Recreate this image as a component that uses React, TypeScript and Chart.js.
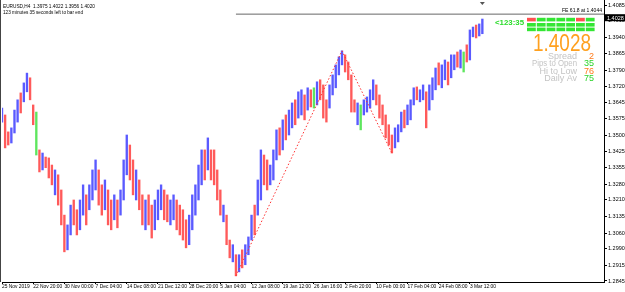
import React, { useEffect, useRef } from 'react';
import { Chart, registerables } from 'chart.js';

Chart.register(...registerables);

// ---------- data ----------
const symbolTitle = 'EURUSD,H4  1.3975 1.4022 1.3956 1.4020';
const timerText = '123 minutes 35 seconds left to bar end';

const timeLabels = [
  '25 Nov 2019', '22 Nov 20:00', '30 Nov 00:00', '7 Dec 04:00', '14 Dec 08:00',
  '21 Dec 12:00', '28 Dec 20:00', '5 Jan 04:00', '12 Jan 08:00', '19 Jan 12:00',
  '26 Jan 16:00', '2 Feb 20:00', '10 Feb 00:00', '17 Feb 04:00', '24 Feb 08:00', '3 Mar 12:00',
];
const barsPerLabel = 10;
const totalSlots = 194;

const highs = [
  1.3622, 1.3591, 1.3515, 1.3533, 1.3613, 1.3659, 1.3690, 1.3735, 1.3779, 1.3758,
  1.3636, 1.3604, 1.3434, 1.3420, 1.3402, 1.3398, 1.3366, 1.3344, 1.3322, 1.3254,
  1.3141, 1.3097, 1.3186, 1.3209, 1.3165, 1.3209, 1.3277, 1.3232, 1.3277, 1.3344,
  1.3389, 1.3344, 1.3277, 1.3299, 1.3254, 1.3209, 1.3232, 1.3209, 1.3254, 1.3389,
  1.3501, 1.3456, 1.3389, 1.3344, 1.3299, 1.3232, 1.3209, 1.3232, 1.3186, 1.3209,
  1.3254, 1.3277, 1.3254, 1.3232, 1.3209, 1.3232, 1.3209, 1.3186, 1.3165, 1.3120,
  1.3141, 1.3232, 1.3277, 1.3366, 1.3434, 1.3434, 1.3488, 1.3434, 1.3434, 1.3344,
  1.3254, 1.3186, 1.3141, 1.3029, 1.3008, 1.2963, 1.2963, 1.2985, 1.3008, 1.3043,
  1.3141, 1.3186, 1.3299, 1.3434, 1.3411, 1.3389, 1.3366, 1.3434, 1.3524, 1.3533,
  1.3569, 1.3591, 1.3613, 1.3645, 1.3659, 1.3695, 1.3704, 1.3681, 1.3713, 1.3704,
  1.3713, 1.3740, 1.3749, 1.3726, 1.3659, 1.3726, 1.3771, 1.3816, 1.3852, 1.3879,
  1.3861, 1.3829, 1.3771, 1.3659, 1.3645, 1.3636, 1.3659, 1.3672, 1.3704, 1.3749,
  1.3726, 1.3681, 1.3636, 1.3591, 1.3547, 1.3501, 1.3533, 1.3547, 1.3604, 1.3613,
  1.3636, 1.3659, 1.3713, 1.3717, 1.3704, 1.3726, 1.3695, 1.3726, 1.3758, 1.3802,
  1.3825, 1.3816, 1.3838, 1.3829, 1.3861, 1.3861, 1.3874, 1.3883, 1.3874, 1.3906,
  1.3973, 1.3986, 1.3995, 1.4000, 1.4022,
];
const lows = [
  1.3559, 1.3443, 1.3456, 1.3465, 1.3510, 1.3559, 1.3600, 1.3650, 1.3695, 1.3659,
  1.3547, 1.3411, 1.3335, 1.3344, 1.3354, 1.3308, 1.3277, 1.3232, 1.3186, 1.3097,
  1.2976, 1.2985, 1.3052, 1.3097, 1.3052, 1.3075, 1.3141, 1.3097, 1.3165, 1.3209,
  1.3254, 1.3186, 1.3141, 1.3165, 1.3097, 1.3075, 1.3120, 1.3084, 1.3141, 1.3209,
  1.3322, 1.3299, 1.3232, 1.3209, 1.3165, 1.3097, 1.3075, 1.3097, 1.3038, 1.3075,
  1.3120, 1.3165, 1.3120, 1.3111, 1.3097, 1.3120, 1.3075, 1.3052, 1.3029, 1.2994,
  1.3008, 1.3075, 1.3141, 1.3209, 1.3277, 1.3299, 1.3344, 1.3299, 1.3277, 1.3209,
  1.3141, 1.3111, 1.3008, 1.2949, 1.2931, 1.2868, 1.2886, 1.2904, 1.2918, 1.2963,
  1.3029, 1.3052, 1.3141, 1.3209, 1.3277, 1.3254, 1.3277, 1.3299, 1.3389, 1.3411,
  1.3434, 1.3479, 1.3501, 1.3533, 1.3547, 1.3577, 1.3591, 1.3569, 1.3613, 1.3627,
  1.3622, 1.3636, 1.3659, 1.3577, 1.3559, 1.3622, 1.3681, 1.3713, 1.3771, 1.3816,
  1.3784, 1.3749, 1.3604, 1.3604, 1.3547, 1.3524, 1.3591, 1.3604, 1.3622, 1.3659,
  1.3636, 1.3577, 1.3547, 1.3488, 1.3456, 1.3420, 1.3443, 1.3470, 1.3515, 1.3533,
  1.3547, 1.3569, 1.3636, 1.3659, 1.3650, 1.3659, 1.3533, 1.3613, 1.3659, 1.3704,
  1.3726, 1.3713, 1.3749, 1.3726, 1.3758, 1.3794, 1.3806, 1.3802, 1.3784, 1.3829,
  1.3838, 1.3942, 1.3937, 1.3946, 1.3956,
];
// u = bull bar, d = bear bar
const directions =
  'udduuuduud' + 'dddudddudd' + 'duudduuduu' + 'uddudduduu' + 'uddudduddu' +
  'uudduudddd' + 'uuuuududdd' + 'duddududuu' + 'uduudduuud' + 'uduuduudud' +
  'uuddduuuuu' + 'dddduduuuu' + 'dddddduuud' + 'uuuduuduuu' + 'duuduuduud' + 'uuduu';
const signalBars = [11, 100, 115, 148];

const priceTicks = [
  1.4085, 1.4015, 1.3940, 1.3865, 1.3790, 1.3720, 1.3645, 1.3575, 1.3500,
  1.3425, 1.3355, 1.3280, 1.3210, 1.3135, 1.3060, 1.2990, 1.2915, 1.2845,
];
const priceMin = 1.28405;
const priceMax = 1.41075;

const zigzagBars = [75, 109, 125];
const zigzagPrices = [1.2868, 1.3879, 1.3420];

const feLevel = 1.4044;
const feStartBar = 75;
const bidPrice = 1.4028;

const panelTimer = '<123:35';
const trendRows = [
  ['d', 'u', 'u', 'u', 'u', 'd', 'u'],
  ['u', 'u', 'u', 'u', 'u', 'u', 'u'],
  ['u', 'u', 'u', 'u', 'u', 'u', 'u'],
];
const statLabels = ['Spread', 'Pips to Open', 'Hi to Low', 'Daily Av'];
const statValues = ['2', '35', '76', '75'];
const statKinds = ['o', 'g', 'o', 'g'];

// ---------- component ----------
const FONT = '"Liberation Sans", Arial, sans-serif';
const BLUE = '#5a5aff';
const RED = '#ff5a5a';
const GREEN = '#5ee65e';

export default function App() {
  const ref = useRef<HTMLCanvasElement | null>(null);

  useEffect(() => {
    document.body.style.margin = '0';
    const canvas = ref.current!;
    const slotLabels = Array.from({ length: totalSlots }, (_, i) =>
      i % barsPerLabel === 0 && i / barsPerLabel < timeLabels.length ? timeLabels[i / barsPerLabel] : ''
    );
    const barData = highs.map((h, i) => [lows[i], h]);
    const barColors = highs.map((_, i) =>
      signalBars.includes(i) ? GREEN : directions[i] === 'u' ? BLUE : RED
    );
    const zigData = slotLabels.map((_, i) => {
      const k = zigzagBars.indexOf(i);
      return k >= 0 ? zigzagPrices[k] : null;
    });
    const feData = slotLabels.map((_, i) => (i === feStartBar || i === totalSlots - 1 ? feLevel : null));

    const overlay = {
      id: 'overlay',
      beforeDraw(chart: any) {
        const c = chart.ctx;
        c.save();
        c.fillStyle = '#ffffff';
        c.fillRect(0, 0, chart.width, chart.height);
        c.restore();
      },
      afterDraw(chart: any) {
        const c = chart.ctx;
        const ys = chart.scales.y;
        const xs = chart.scales.x;
        c.save();
        // frame left
        c.strokeStyle = '#444';
        c.lineWidth = 1;
        c.beginPath();
        c.moveTo(0.5, 0);
        c.lineTo(0.5, 282);
        c.stroke();
        // header
        c.fillStyle = '#000';
        c.font = `5.5px ${FONT}`;
        c.textAlign = 'left';
        c.textBaseline = 'alphabetic';
        c.fillText(symbolTitle, 3, 8, 92);
        c.fillText(timerText, 3, 13.5, 80);
        // FE label
        const feY = ys.getPixelForValue(feLevel);
        c.textAlign = 'right';
        c.fillText(`FE 61.8 at ${feLevel.toFixed(4)}`, 602, feY - 2.5, 40);
        // shift marker
        const sx = xs.getPixelForValue(highs.length - 1);
        c.fillStyle = '#555';
        c.beginPath();
        c.moveTo(sx - 2.5, 2);
        c.lineTo(sx + 2.5, 2);
        c.lineTo(sx, 5);
        c.closePath();
        c.fill();
        // price box on axis
        const by = ys.getPixelForValue(bidPrice);
        c.fillStyle = '#000';
        c.fillRect(605, by - 3.5, 20, 7);
        c.fillStyle = '#fff';
        c.textAlign = 'left';
        c.textBaseline = 'middle';
        c.font = `5.5px ${FONT}`;
        c.fillText(bidPrice.toFixed(4), 607, by + 0.3);
        // panel: timer
        c.fillStyle = '#2bdc2b';
        c.font = `bold 8px ${FONT}`;
        c.textBaseline = 'alphabetic';
        c.fillText(panelTimer, 495, 25, 29);
        // panel grid
        const gx = 527;
        const cw = 9.8;
        const rowY = [17.8, 23, 27.6];
        trendRows.forEach((row, r) => {
          row.forEach((v, k) => {
            c.fillStyle = v === 'u' ? '#33e633' : '#ff5050';
            c.fillRect(gx + k * cw, rowY[r], cw - 1, 3.6);
          });
        });
        // big price
        c.fillStyle = '#ffa01e';
        c.font = `23px ${FONT}`;
        c.textAlign = 'right';
        c.fillText(bidPrice.toFixed(4), 591, 50.5, 58);
        // stats
        c.font = `9px ${FONT}`;
        statLabels.forEach((lab, i) => {
          const yy = 58.5 + i * 7.5;
          c.fillStyle = '#c4c4c4';
          c.textAlign = 'right';
          c.fillText(lab, 577, yy, 45);
          c.fillStyle = statKinds[i] === 'o' ? '#ff7a1a' : '#2bd42b';
          c.fillText(statValues[i], 594, yy);
        });
        c.restore();
      },
    };

    const chart = new Chart(canvas, {
      type: 'bar',
      data: {
        labels: slotLabels,
        datasets: [
          {
            type: 'line',
            data: zigData as any,
            borderColor: '#ff3030',
            borderWidth: 1,
            borderDash: [1.5, 2],
            pointRadius: 0,
            spanGaps: true,
            order: 1,
          } as any,
          {
            type: 'line',
            data: feData as any,
            borderColor: '#666',
            borderWidth: 1,
            pointRadius: 0,
            spanGaps: true,
            order: 1,
          } as any,
          {
            type: 'bar',
            data: barData as any,
            backgroundColor: barColors,
            borderWidth: 0,
            borderSkipped: false,
            barThickness: 1.7,
            order: 2,
          } as any,
        ],
      },
      options: {
        animation: false,
        responsive: false,
        maintainAspectRatio: false,
        layout: { padding: { left: 2, right: 0, top: 0, bottom: 0 } },
        plugins: { legend: { display: false }, tooltip: { enabled: false } },
        events: [],
        scales: {
          x: {
            type: 'category',
            offset: false,
            grid: {
              display: true,
              drawOnChartArea: false,
              drawTicks: true,
              tickLength: 2,
              offset: false,
              tickColor: (ctx: any) =>
                ctx.index % barsPerLabel === 0 && ctx.index / barsPerLabel < timeLabels.length
                  ? '#000'
                  : 'rgba(0,0,0,0)',
            },
            border: { display: true, color: '#000', width: 1 },
            ticks: {
              autoSkip: false,
              maxRotation: 0,
              minRotation: 0,
              align: 'start',
              padding: 0,
              color: '#000',
              font: { family: FONT, size: 4.9 },
            },
            afterFit: (s: any) => {
              s.height = 10;
              s.paddingLeft = 0;
              s.paddingRight = 0;
            },
          },
          y: {
            type: 'linear',
            position: 'right',
            min: priceMin,
            max: priceMax,
            grid: { display: true, drawOnChartArea: false, drawTicks: true, tickLength: 3, tickColor: '#000' },
            border: { display: true, color: '#000', width: 1 },
            ticks: {
              padding: 1,
              color: '#000',
              font: { family: FONT, size: 5.5 },
              callback: (v: any) => Number(v).toFixed(4),
            },
            afterBuildTicks: (s: any) => {
              s.ticks = priceTicks.map((v) => ({ value: v }));
            },
            afterFit: (s: any) => {
              s.width = 21;
              s.paddingTop = 0;
              s.paddingBottom = 0;
            },
          },
        },
      } as any,
      plugins: [overlay],
    });
    return () => chart.destroy();
  }, []);

  return (
    <div style={{ width: 625, height: 292, position: 'relative' }}>
      <canvas ref={ref} width={625} height={292} style={{ display: 'block', width: 625, height: 292 }} />
    </div>
  );
}
